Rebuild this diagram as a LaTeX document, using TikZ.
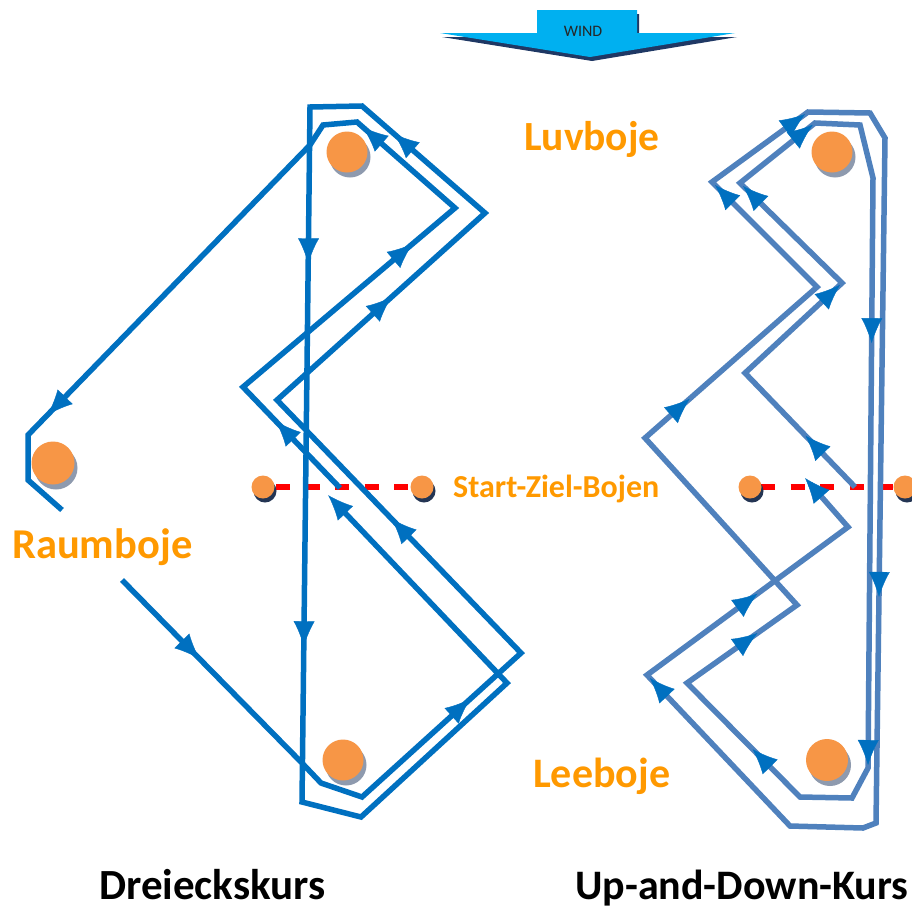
\documentclass[tikz,border=0pt]{standalone}
\usepackage{fontspec}
\setmainfont{Carlito}
\usetikzlibrary{arrows.meta,decorations.markings,calc,shadows}
\definecolor{lineA}{HTML}{0070C0}
\definecolor{lineB}{HTML}{4F81BD}
\definecolor{buoyfill}{HTML}{F79646}
\definecolor{buoyshadow}{HTML}{8E9AAE}
\definecolor{smallshadow}{HTML}{243553}
\definecolor{labelorange}{HTML}{FF9900}
\definecolor{windblue}{HTML}{00B0F0}
\definecolor{windshadow}{HTML}{1F3864}
\tikzset{
  courseA/.style={draw=lineA, line width=5.5pt, line join=miter},
  courseB/.style={draw=lineB, line width=5.5pt, line join=miter},
  arrowmark/.style={postaction={decorate}, decoration={markings,
     mark=at position #1 with {\arrow{Latex[length=25pt,width=21pt]}}}},
  startline/.style={draw=red, line width=5.5pt, dash pattern=on 14pt off 15.5pt},
  bigbuoy/.style={circle, fill=buoyfill, minimum size=41pt, inner sep=0pt,
     drop shadow={shadow xshift=3pt, shadow yshift=-5pt, fill=buoyshadow, opacity=1}},
  smallbuoy/.style={circle, fill=buoyfill, minimum size=23pt, inner sep=0pt,
     drop shadow={shadow xshift=2pt, shadow yshift=-4pt, fill=smallshadow, opacity=1}},
  buoylabel/.style={font=\fontsize{42}{48}\selectfont\bfseries, text=labelorange, inner sep=0pt, anchor=base west},
  coursetitle/.style={font=\fontsize{42}{48}\selectfont\bfseries, text=black, inner sep=0pt, anchor=base west},
}
\begin{document}
\begin{tikzpicture}[x=1pt,y=-1pt]
\useasboundingbox (0,0) rectangle (912,910);
\fill[white] (0,0) rectangle (912,910);

% wind arrow
\fill[windshadow, shift={(2,4)}] (440,33) -- (537,33) -- (537,10) -- (637,10) -- (637,33) -- (735,33) -- (590,57) -- cycle;
\fill[windblue] (440,33) -- (537,33) -- (537,10) -- (637,10) -- (637,33) -- (735,33) -- (590,57) -- cycle;
\node[font=\fontsize{16}{18}\selectfont, text=black!85, inner sep=0pt] (windtext) at (583,31) {WIND};

% start lines
\draw[startline] (276,487) -- (412,487);
\draw[startline] (761,487) -- (898,487);

% ---------- Dreieckskurs ----------
\coordinate (L0) at (340,488);
\coordinate (L1) at (243,387);
\coordinate (L2) at (455,208);
\coordinate (L3) at (357,122);
\coordinate (L4) at (323,125);
\coordinate (L5) at (310,145);
\coordinate (L6) at (28,435);
\coordinate (L7) at (28,480);
\coordinate (L8) at (62,510);
\coordinate (L9) at (122,580);
\coordinate (L10) at (302,763);
\coordinate (L11) at (321,783);
\coordinate (L12) at (362,797);
\coordinate (L13) at (521,653);
\coordinate (L14) at (277,400);
\coordinate (L15) at (485,213);
\coordinate (L16) at (362,106);
\coordinate (L17) at (310,107);
\coordinate (L18) at (302,802);
\coordinate (L19) at (361,817);
\coordinate (L20) at (507,683);
\coordinate (L21) at (328,495);

\draw[courseA] (L0) -- (L1) -- (L2) -- (L3) -- (L4) -- (L5) -- (L6) -- (L7) -- (L8);
\draw[courseA] (L9) -- (L10) -- (L11) -- (L12) -- (L13) -- (L14) -- (L15) -- (L16) -- (L17) -- (L18) -- (L19) -- (L20) -- ($(L20)!0.93!(L21)$);

\path[lineA, arrowmark=0.66] (L0) -- (L1);
\path[lineA, arrowmark=0.8] (L1) -- (L2);
\path[lineA, arrowmark=0.94] (L2) -- (L3);
\path[lineA, arrowmark=0.93] (L5) -- (L6);
\path[lineA, arrowmark=0.43] (L9) -- (L10);
\path[lineA, arrowmark=0.68] (L12) -- (L13);
\path[lineA, arrowmark=0.53] (L13) -- (L14);
\path[lineA, arrowmark=0.55] (L14) -- (L15);
\path[lineA, arrowmark=0.74] (L15) -- (L16);
\path[lineA, arrowmark=0.225] (L17) -- (L18);
\path[lineA, arrowmark=0.776] (L17) -- (L18);
\path[lineA, arrowmark=0.999] (L20) -- (L21);

% ---------- Up-and-Down-Kurs ----------
\coordinate (R0) at (855,487);
\coordinate (R1) at (745,373);
\coordinate (R2) at (842,283);
\coordinate (R3) at (740,183);
\coordinate (R4) at (815,123);
\coordinate (R5) at (860,125);
\coordinate (R6) at (873,178);
\coordinate (R7) at (868,768);
\coordinate (R8) at (852,798);
\coordinate (R9) at (800,797);
\coordinate (R10) at (687,683);
\coordinate (R11) at (797,605);
\coordinate (R12) at (645,438);
\coordinate (R13) at (817,287);
\coordinate (R14) at (712,182);
\coordinate (R15) at (808,112);
\coordinate (R16) at (870,113);
\coordinate (R17) at (885,138);
\coordinate (R18) at (876,823);
\coordinate (R19) at (863,828);
\coordinate (R20) at (790,826);
\coordinate (R21) at (647,675);
\coordinate (R22) at (848,527);
\coordinate (R23) at (805,478);

\draw[courseB] (R0) -- (R1) -- (R2) -- (R3) -- (R4) -- (R5) -- (R6) -- (R7) -- (R8) -- (R9) -- (R10) -- (R11) -- (R12) -- (R13) -- (R14) -- (R15) -- (R16) -- (R17) -- (R18) -- (R19) -- (R20) -- (R21) -- (R22) -- ($(R22)!0.88!(R23)$);

\path[lineA, arrowmark=0.45] (R0) -- (R1);
\path[lineA, arrowmark=0.98] (R1) -- (R2);
\path[lineA, arrowmark=0.97] (R2) -- (R3);
\path[lineA, arrowmark=0.97] (R3) -- (R4);
\path[lineA, arrowmark=0.28] (R6) -- (R7);
\path[lineA, arrowmark=0.995] (R6) -- (R7);
\path[lineA, arrowmark=0.42] (R9) -- (R10);
\path[lineA, arrowmark=0.64] (R10) -- (R11);
\path[lineA, arrowmark=0.26] (R12) -- (R13);
\path[lineA, arrowmark=0.97] (R13) -- (R14);
\path[lineA, arrowmark=0.97] (R14) -- (R15);
\path[lineA, arrowmark=0.67] (R17) -- (R18);
\path[lineA, arrowmark=0.98] (R20) -- (R21);
\path[lineA, arrowmark=0.55] (R21) -- (R22);
\path[lineA, arrowmark=0.999] (R22) -- (R23);

% ---------- buoys ----------
\node[bigbuoy] (luvA) at (347,152) {};
\node[bigbuoy, minimum size=43pt] (raumA) at (53,463) {};
\node[bigbuoy] (leeA) at (343,760) {};
\node[smallbuoy] (startA1) at (263,487) {};
\node[smallbuoy] (startA2) at (422,487) {};
\node[bigbuoy] (luvB) at (832,152) {};
\node[bigbuoy, minimum size=42pt] (leeB) at (827,760) {};
\node[smallbuoy] (startB1) at (750,487) {};
\node[smallbuoy] (startB2) at (905,487) {};

% ---------- labels ----------
\node[buoylabel, font=\fontsize{41.5}{48}\selectfont\bfseries] (luvtext) at (524,150) {Luvboje};
\node[buoylabel, font=\fontsize{42.5}{48}\selectfont\bfseries] (raumtext) at (12,558) {Raumboje};
\node[buoylabel] (leetext) at (533,787) {Leeboje};
\node[buoylabel, font=\fontsize{32}{36}\selectfont\bfseries] (starttext) at (453,497) {Start-Ziel-Bojen};
\node[coursetitle, font=\fontsize{43}{48}\selectfont\bfseries] (title1) at (99,899) {Dreieckskurs};
\node[coursetitle] (title2) at (575,899) {Up-and-Down-Kurs};
\end{tikzpicture}
\end{document}
